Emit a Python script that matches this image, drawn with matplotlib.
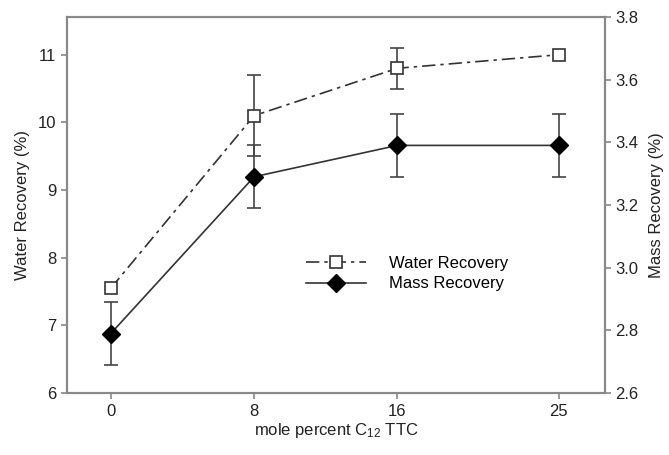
import matplotlib.pyplot as plt
import numpy as np

plt.rcParams['font.family'] = ['Liberation Sans', 'DejaVu Sans']
plt.rcParams['mathtext.default'] = 'regular'

# data
mole_pct = np.array([0, 8, 16, 25])
water = np.array([7.55, 10.1, 10.8, 11.0])
water_err = np.array([0, 0.6, 0.3, 0])
mass = np.array([2.79, 3.29, 3.39, 3.39])
mass_err = np.array([0.1, 0.1, 0.1, 0.1])

fig = plt.figure(figsize=(6.69, 4.55), dpi=100)
ax = fig.add_axes([0.100, 0.136, 0.804, 0.827])
ax2 = ax.twinx()

gray = '#888888'
for a in (ax, ax2):
    for s in a.spines.values():
        s.set_color(gray)
        s.set_linewidth(1.5)

# water recovery (left axis)
ax.errorbar(mole_pct[water_err > 0], water[water_err > 0], yerr=water_err[water_err > 0],
            fmt='none', ecolor='#444444', elinewidth=1.2, capsize=5, capthick=1.2, zorder=2)
l1, = ax.plot(mole_pct, water, color='#333333', ls=(0, (8, 3, 2, 3)), lw=1.2,
              marker='s', ms=8.5, mfc='white', mec='#333333', mew=1.2, zorder=3)

# mass recovery (right axis)
ax2.errorbar(mole_pct, mass, yerr=mass_err, fmt='none', ecolor='#444444',
             elinewidth=1.2, capsize=5, capthick=1.2, zorder=2)
l2, = ax2.plot(mole_pct, mass, color='#333333', ls='-', lw=1.2,
               marker='D', ms=9, mfc='black', mec='black', zorder=3)

ax.set_xlim(-2.45, 27.57)
ax.set_ylim(6, 11.56)
ax2.set_ylim(2.6, 3.8)
ax.set_xticks(mole_pct)
ax.set_yticks([6, 7, 8, 9, 10, 11])
ax2.set_yticks([2.6, 2.8, 3.0, 3.2, 3.4, 3.6, 3.8])
ax2.set_yticklabels(['2.6', '2.8', '3.0', '3.2', '3.4', '3.6', '3.8'])

for a in (ax, ax2):
    a.tick_params(direction='out', length=4, width=1.2, color=gray,
                  labelsize=12, labelcolor='#222222')

ax.set_xlabel('mole percent C$_{12}$ TTC', fontsize=12, color='#222222', labelpad=2)
ax.set_ylabel('Water Recovery (%)', fontsize=12, color='#222222', labelpad=6)
ax2.set_ylabel('Mass Recovery (%)', fontsize=12, color='#222222', labelpad=8)

ax.legend([l1, l2], ['Water Recovery', 'Mass Recovery'], loc='center',
          bbox_to_anchor=(0.632, 0.318), frameon=False, fontsize=12,
          handlelength=3.6, labelspacing=0.35, handletextpad=1.4)

ax.set_zorder(ax2.get_zorder() + 1)
ax.patch.set_visible(False)

fig.savefig('out.png', dpi=100)
